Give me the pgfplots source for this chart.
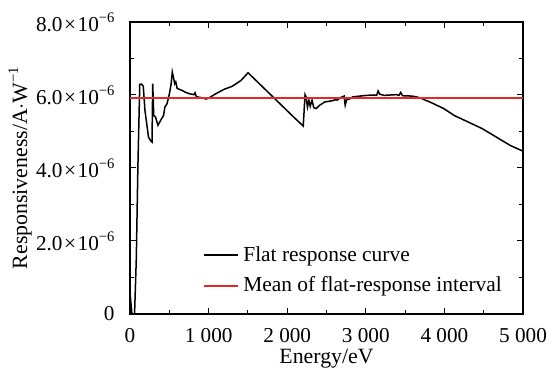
\documentclass[border=0pt]{standalone}
\usepackage{fontspec}
\setmainfont{Liberation Serif}
\usepackage{pgfplots}
\pgfplotsset{compat=1.18}
\definecolor{meanred}{RGB}{228,40,40}
\newcommand{\ylab}[1]{#1\kern0.8pt×\kern0.8pt10\raisebox{0.9ex}{\fontsize{7.3}{8}\selectfont −6}}
\begin{document}
\fontsize{10.7}{13}\selectfont
\begin{tikzpicture}
\begin{axis}[
  name=ax,
  scale only axis,
  width=196.5pt, height=146pt,
  xmin=0, xmax=5000, ymin=0, ymax=8e-6,
  xtick={0,1000,2000,3000,4000,5000},
  xticklabels={0,1\ 000,2\ 000,3\ 000,4\ 000,5\ 000},
  minor xtick={500,1500,2500,3500,4500},
  ytick={0,2e-6,4e-6,6e-6,8e-6},
  yticklabels={0,\ylab{2.0},\ylab{4.0},\ylab{6.0},\ylab{8.0}},
  minor ytick={1e-6,3e-6,5e-6,7e-6},
  tick align=inside,
  major tick length=3pt, minor tick length=2pt,
  tick style={black, line width=0.5pt},
  axis line style={line width=0.6pt},
  scaled y ticks=false,
  tick label style={font=\fontsize{10.6}{12}\selectfont},
  yticklabel style={xshift=-4pt},
  xticklabel style={yshift=-3.5pt},
  /pgf/number format/assume math mode=true,
  label style={font=\fontsize{10.9}{13}\selectfont},
  xlabel={Energy/eV},
  ylabel={Responsiveness/A$\cdot$W\raisebox{0.9ex}{\fontsize{7.3}{8}\selectfont −1}},
  xlabel style={at={(axis description cs:0.5,-0.168)}, anchor=base},
  ylabel style={at={(axis description cs:-0.262,0.5)}, anchor=base},
  legend style={draw=none, fill=none, at={(0.17,0.036)}, anchor=south west, font=\fontsize{10.7}{13}\selectfont, row sep=2.3pt},
  legend cell align=left,
]
\addplot[black, line width=0.75pt] coordinates {
(0,0.57e-6) (12,0.3e-6) (25,0) (58,0) (80,1.5e-6) (100,4.0e-6) (124,6.29e-6) (145,6.3e-6) (169,6.24e-6)
(190,5.58e-6) (235,4.85e-6) (258,4.76e-6) (280,4.71e-6) (289,6.31e-6) (302,5.44e-6) (324,5.40e-6)
(356,5.17e-6) (391,5.31e-6) (427,5.44e-6) (444,5.67e-6) (471,5.76e-6) (502,6.04e-6) (524,6.31e-6)
(538,6.63e-6) (551,6.50e-6) (569,6.31e-6) (582,6.36e-6) (600,6.18e-6) (658,6.13e-6) (702,6.08e-6)
(747,6.04e-6) (813,6.01e-6) (827,6.06e-6) (844,5.95e-6) (902,5.93e-6) (969,5.89e-6) (1013,5.93e-6)
(1080,6.02e-6) (1191,6.15e-6) (1302,6.24e-6) (1413,6.40e-6) (1502,6.61e-6)
(2080,5.40e-6) (2204,5.15e-6) (2227,6.01e-6) (2240,5.95e-6) (2258,5.67e-6) (2276,5.86e-6)
(2293,5.69e-6) (2316,5.86e-6) (2338,5.65e-6) (2369,5.63e-6) (2413,5.72e-6) (2480,5.81e-6)
(2569,5.84e-6) (2613,5.87e-6) (2636,5.86e-6) (2680,5.93e-6) (2724,5.97e-6) (2738,5.72e-6)
(2756,5.87e-6) (2791,5.89e-6) (2836,5.95e-6) (2924,5.97e-6) (3013,5.99e-6) (3102,6.00e-6)
(3138,5.99e-6) (3156,6.11e-6) (3178,6.02e-6) (3236,5.99e-6) (3391,6.01e-6) (3422,5.99e-6)
(3444,6.07e-6) (3467,5.98e-6) (3591,5.97e-6) (3680,5.93e-6) (3813,5.81e-6) (3991,5.63e-6)
(4124,5.44e-6) (4302,5.26e-6) (4480,5.08e-6) (4658,4.85e-6) (4836,4.62e-6) (5000,4.46e-6)
};
\addlegendentry{Flat response curve}
\addplot[meanred, line width=0.75pt, forget plot] coordinates {(0,5.92e-6) (5000,5.92e-6)};
\addlegendimage{color=meanred, line width=1pt}
\addlegendentry{Mean of flat-response interval}
\end{axis}
\pgfresetboundingbox
\path (ax.south west) ++(-65pt,-29pt) coordinate (bl);
\path (ax.north east) ++(12pt,11pt) coordinate (tr);
\useasboundingbox (bl) rectangle (tr);
\end{tikzpicture}
\end{document}
